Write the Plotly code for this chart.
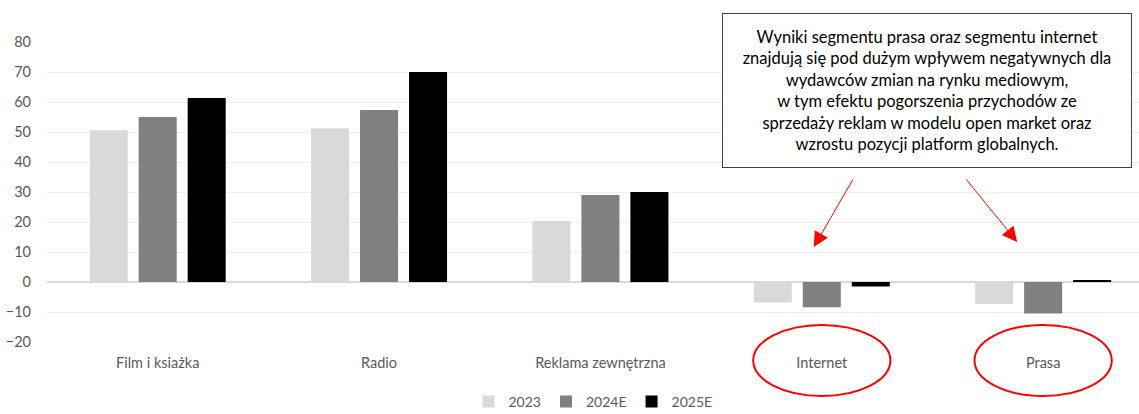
import plotly.graph_objects as go

categories = ["Film i ksiażka", "Radio", "Reklama zewnętrzna", "Internet", "Prasa"]
series_names = ["2023", "2024E", "2025E"]
values_2023 = [50.6, 51.2, 20.3, -6.8, -7.3]
values_2024 = [55.0, 57.3, 29.0, -8.4, -10.5]
values_2025 = [61.3, 70.0, 30.0, -1.5, 0.6]
colors = ["#D9D9D9", "#808080", "#000000"]
y_ticks = [-20, -10, 0, 10, 20, 30, 40, 50, 60, 70, 80]

note_text = ("Wyniki segmentu prasa oraz segmentu internet<br>"
             "znajdują się pod dużym wpływem negatywnych dla<br>"
             "wydawców zmian na rynku mediowym,<br>"
             "w tym efektu pogorszenia przychodów ze<br>"
             "sprzedaży reklam w modelu open market oraz<br>"
             "wzrostu pozycji platform globalnych.")

fig = go.Figure()
for name, vals, col in zip(series_names, [values_2023, values_2024, values_2025], colors):
    fig.add_trace(go.Bar(x=categories, y=vals, name=name, marker_color=col,
                         marker_line_width=0))

font_family = "Lato, 'Open Sans', sans-serif"

fig.update_layout(
    width=1139, height=414,
    margin=dict(l=47, r=0, t=42, b=72, autoexpand=False),
    paper_bgcolor="white", plot_bgcolor="white",
    barmode="group", bargap=0.336, bargroupgap=0.224,
    font=dict(family=font_family, size=14.5, color="#595959"),
    showlegend=True,
    legend=dict(orientation="h", x=0.5, xanchor="center", y=(342 - 402) / 300,
                yanchor="middle", font=dict(size=14, color="#595959"),
                traceorder="normal", itemwidth=30, tracegroupgap=0),
    xaxis=dict(range=[-0.5, 4.433], showgrid=False, showline=False, zeroline=False,
               automargin=False, ticks="", tickfont=dict(size=14.5, color="#595959"),
               ticklabelstandoff=10),
    yaxis=dict(range=[-20, 80], tickvals=y_ticks, showgrid=True, gridcolor="#EFEFEF",
               gridwidth=1, zeroline=True, zerolinecolor="#D9D9D9", zerolinewidth=1.5,
               automargin=False, showline=False, ticks="",
               tickfont=dict(size=14.5, color="#595959"), ticklabelstandoff=15),
)

# red ellipses around Internet and Prasa labels
for idx in [3, 4]:
    fig.add_shape(type="circle", xref="x", yref="paper",
                  x0=idx - 0.31, x1=idx + 0.31, y0=-0.18, y1=0.057,
                  line=dict(color="#FF0000", width=2))

# commentary box
fig.add_annotation(text=note_text, xref="paper", yref="paper",
                   x=(927 - 47) / 1092, y=(342 - 90.5) / 300,
                   xanchor="center", yanchor="middle", showarrow=False,
                   align="center", width=402, height=147,
                   bordercolor="#404040", borderwidth=1, borderpad=3,
                   bgcolor="white",
                   font=dict(family=font_family, size=16.5, color="#000000"))

# red arrows
arrows = [
    dict(x=3 - (821 - 813) / 221.5, y=(282 - 247) / 3, ax=853 - 813, ay=178 - 247),
    dict(x=4 - (1043 - 1017) / 221.5, y=(282 - 242) / 3, ax=965 - 1017, ay=178 - 242),
]
for a in arrows:
    fig.add_annotation(x=a["x"], y=a["y"], xref="x", yref="y", ax=a["ax"], ay=a["ay"],
                       axref="pixel", ayref="pixel", showarrow=True, text="",
                       arrowhead=2, arrowsize=3, arrowwidth=1, arrowcolor="#FF0000")

fig.write_html("out.html", config={"displayModeBar": False},
               post_script="document.body.style.margin='0';document.body.style.padding='0';")
